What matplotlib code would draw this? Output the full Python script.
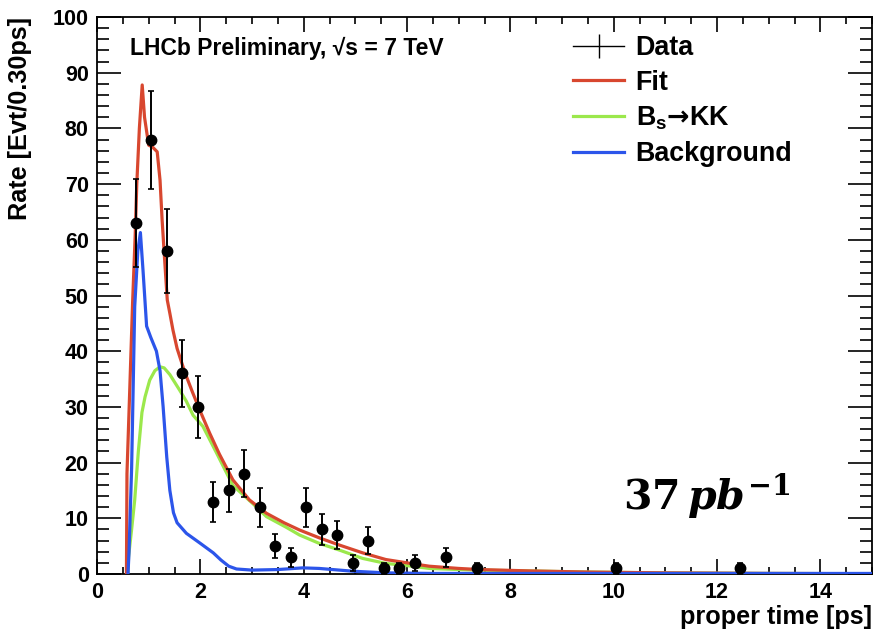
import matplotlib
matplotlib.use("Agg")
import matplotlib.pyplot as plt
from matplotlib.lines import Line2D
from matplotlib.ticker import MultipleLocator

plt.rcParams['font.family'] = ['Liberation Sans', 'DejaVu Sans']
plt.rcParams['font.weight'] = 'bold'
plt.rcParams['mathtext.fontset'] = 'custom'
plt.rcParams['mathtext.rm'] = 'DejaVu Serif:bold'
plt.rcParams['mathtext.it'] = 'DejaVu Serif:italic:bold'
plt.rcParams['mathtext.bf'] = 'Liberation Sans:bold'
plt.rcParams['mathtext.sf'] = 'DejaVu Sans'

# Binned decay-time data, 0.30 ps bins
t_data = [0.75, 1.05, 1.35, 1.65, 1.95, 2.25, 2.55, 2.85, 3.15, 3.45, 3.75, 4.05,
          4.35, 4.65, 4.95, 5.25, 5.55, 5.85, 6.15, 6.75, 7.35, 10.05, 12.45]
n_data = [63, 78, 58, 36, 30, 13, 15, 18, 12, 5, 3, 12, 8, 7, 2, 6, 1, 1, 2, 3, 1, 1, 1]
err_data = [7.9, 8.8, 7.6, 6.0, 5.5, 3.6, 3.9, 4.2, 3.5, 2.2, 1.7, 3.5, 2.8, 2.6, 1.4,
            2.4, 1.0, 1.0, 1.4, 1.7, 1.0, 1.0, 1.0]

# Total fit
t_fit = [0.57, 0.58, 0.63, 0.69, 0.74, 0.77, 0.82, 0.875, 0.92, 1.00, 1.08, 1.165,
         1.22, 1.26, 1.305, 1.36, 1.41, 1.47, 1.55, 1.70, 1.85, 1.99, 2.18, 2.37,
         2.63, 2.95, 3.28, 3.62, 3.92, 4.30, 4.69, 5.14, 5.59, 6.0, 6.43, 7.0, 7.4,
         8.4, 9.5, 11.0, 13.0, 15.0]
y_fit = [0, 18, 32, 49, 61, 70, 80, 87.8, 82, 77, 76.6, 75.8,
         70.7, 63.6, 57, 49.2, 46.8, 43.8, 40.5, 36.2, 32.6, 29.4, 25.3, 21.5,
         16.9, 13.3, 10.9, 9.2, 7.9, 6.5, 5.2, 3.8, 2.6, 2.0, 1.4, 1.0, 0.8,
         0.55, 0.35, 0.2, 0.1, 0.05]

# Bs -> KK signal component
t_sig = [0.60, 0.61, 0.67, 0.73, 0.80, 0.87, 0.93, 1.02, 1.12, 1.22, 1.30, 1.41,
         1.60, 1.73, 1.86, 2.05, 2.31, 2.63, 3.02, 3.28, 3.66, 3.92, 4.30, 4.69,
         5.14, 5.59, 6.0, 6.43, 7.0, 7.39, 8.36, 9.5, 11.0, 13.0, 15.0]
y_sig = [0, 3, 8, 13.3, 22, 29, 31.8, 34.8, 36.5, 37.2, 37.0, 35.8,
         33.0, 31.0, 28.5, 26.5, 21.8, 15.9, 12.6, 10.3, 8.4, 7.0, 5.5, 4.3,
         2.8, 1.9, 1.5, 1.0, 0.8, 0.7, 0.55, 0.35, 0.2, 0.1, 0.05]

# Background component
t_bkg = [0.60, 0.62, 0.67, 0.73, 0.79, 0.84, 0.89, 0.96, 1.04, 1.15, 1.22, 1.28,
         1.35, 1.41, 1.48, 1.55, 1.73, 2.00, 2.25, 2.40, 2.55, 2.70, 3.00, 3.50,
         3.98, 4.30, 4.95, 5.60, 6.50, 15.0]
y_bkg = [0, 4, 19, 48, 58, 61.3, 54.6, 44.5, 42.5, 40.0, 36.5, 30.0,
         21.0, 15.0, 11.0, 9.2, 7.3, 5.5, 3.8, 2.5, 1.4, 0.9, 0.7, 0.8,
         1.1, 1.0, 0.5, 0.2, 0.1, 0.1]

col_fit = '#d8472f'
col_sig = '#9be84c'
col_bkg = '#2c55ea'
line_width = 2.3

fig = plt.figure(figsize=(8.74, 6.32), dpi=100)
ax = fig.add_axes([97 / 874, 58 / 632, 775 / 874, 557 / 632])

ax.plot(t_sig, y_sig, color=col_sig, lw=line_width, zorder=2)
ax.plot(t_fit, y_fit, color=col_fit, lw=line_width, zorder=3)
ax.plot(t_bkg, y_bkg, color=col_bkg, lw=line_width, zorder=4)
ax.errorbar(t_data, n_data, yerr=err_data, fmt='o', color='k', ms=7.5,
            elinewidth=1.4, capsize=2.0, capthick=1.2, zorder=5)

ax.set_xlim(0, 15)
ax.set_ylim(0, 100)
ax.xaxis.set_major_locator(MultipleLocator(2))
ax.xaxis.set_minor_locator(MultipleLocator(0.5))
ax.yaxis.set_major_locator(MultipleLocator(10))
ax.yaxis.set_minor_locator(MultipleLocator(2))

for sp in ax.spines.values():
    sp.set_linewidth(1.3)
ax.tick_params(axis='both', which='both', direction='in', top=True, right=True,
               width=1.2, labelsize=15.5)
ax.tick_params(axis='x', which='major', length=11, pad=6)
ax.tick_params(axis='x', which='minor', length=5)
ax.tick_params(axis='y', which='major', length=17, pad=6)
ax.tick_params(axis='y', which='minor', length=8.5)

fig.text(20 / 874, 1 - 17 / 632, 'Rate [Evt/0.30ps]', rotation=90,
         ha='center', va='top', fontsize=18.2)
fig.text(872 / 874, 1 - 617 / 632, 'proper time [ps]', ha='right', va='center',
         fontsize=18.2)

ax.text(130 / 874, 1 - 48 / 632, 'LHCb Preliminary, √s = 7 TeV',
        transform=fig.transFigure, ha='left', va='center', fontsize=16.5)
ax.text(10.19, 11.3, r'$\mathrm{37}\,\mathit{pb}^{\mathrm{-1}}$', fontsize=29.5,
        ha='left', va='baseline')

handles = [
    Line2D([], [], color='k', lw=1, marker='|', markersize=17, markeredgewidth=1),
    Line2D([], [], color=col_fit, lw=line_width),
    Line2D([], [], color=col_sig, lw=line_width),
    Line2D([], [], color=col_bkg, lw=line_width),
]
labels = ['Data', 'Fit', r'B$_\mathbf{s}$$\mathsf{→}$KK', 'Background']
ax.legend(handles, labels, loc='upper left', bbox_to_anchor=(573 / 874, 1 - 35 / 632),
          bbox_transform=fig.transFigure, frameon=False, fontsize=19.4,
          handlelength=1.9, handletextpad=0.42, labelspacing=0.33,
          borderpad=0, borderaxespad=0)

fig.savefig('out.png', dpi=100)
